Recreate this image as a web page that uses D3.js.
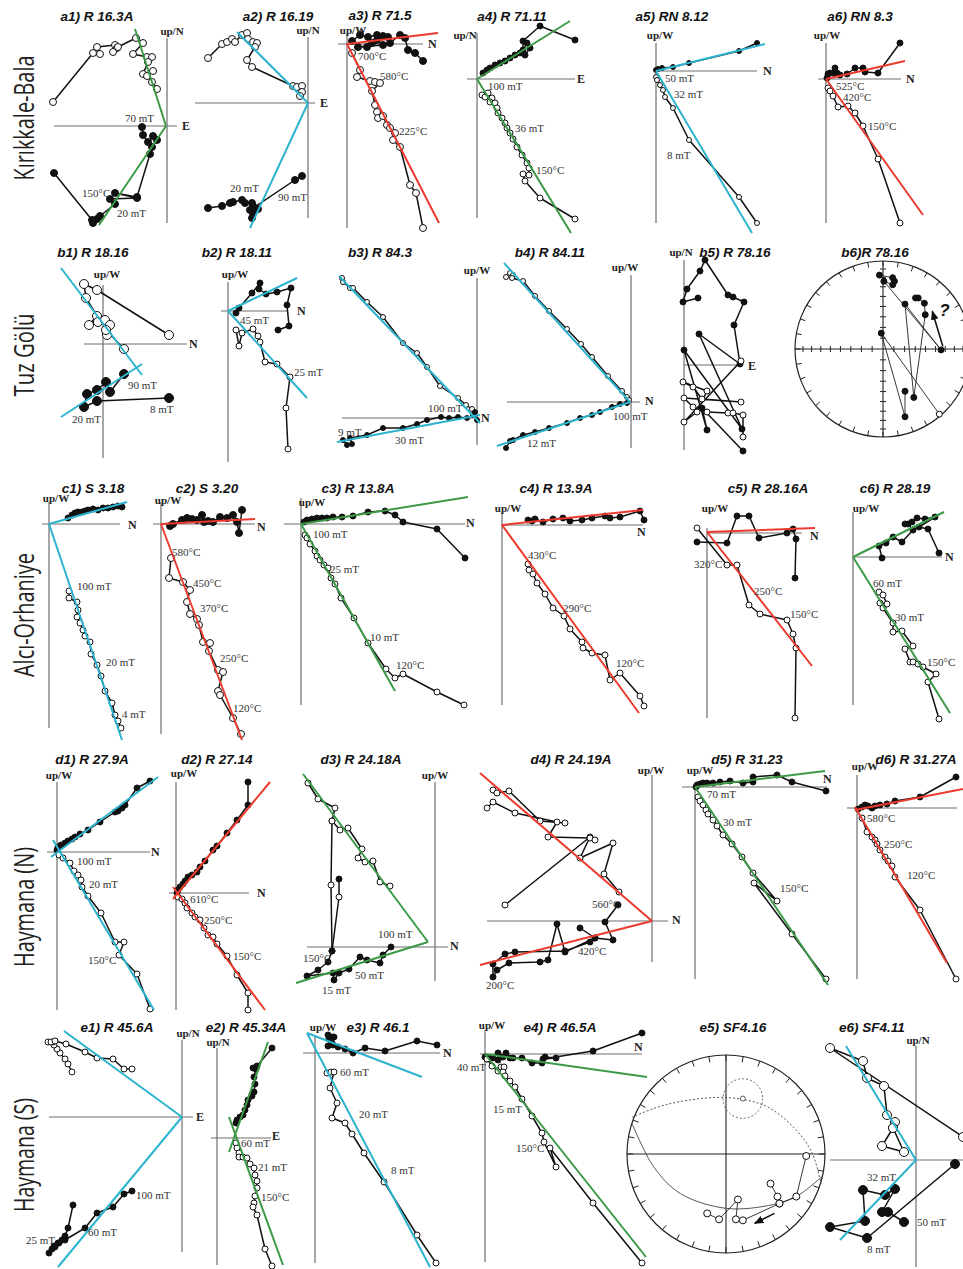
<!DOCTYPE html>
<html>
<head>
<meta charset="utf-8">
<script src="https://cdn.jsdelivr.net/npm/d3@7"></script>
<style>body{margin:0;background:#fff}</style>
</head>
<body>
<script>
// Zijderveld data: [east-or-north, up], arbitrary units.
// A third value overrides fill (1 = filled/horizontal, 0 = open/vertical).
const a1V = [[-114,24],[-74,73],[-67,72],[-70,79],[-52,81],[-50,78],[-54,74],[-49,79],[-31,88],[-24,83],[-34,72],[-20,69],[-15,69],[-19,64],[-24,52],[-14,55],[-20,50],[-15,44],[-10,37]];
const a1H = [[-25,-1],[-24,-9],[-19,-16],[-14,-10],[-10,-14],[-15,-21],[-17,-28],[-30,-71],[-52,-67],[-30,-72],[-57,-73],[-52,-78],[-67,-90],[-70,-93],[-74,-97],[-75,-94],[-113,-47]];
const a1Fit = [[[-32,97],[-1,0]],[[-1,0],[-68,-99]]];
const a1Txt = [["70 mT",-42,8],["150°C",-85,-67],["20 mT",-50,-87]];

const a2V = [[-100,45],[-86,59],[-81,61],[-76,64],[-73,61],[-66,68],[-61,70],[-60,64],[-55,61],[-51,60],[-53,56],[-61,43],[-56,36],[-15,17],[-11,16],[-6,17],[-6,11],[-8,7]];
const a2H = [[-100,-105],[-86,-103],[-78,-100],[-75,-99],[-66,-97],[-63,-100],[-56,-100],[-55,-103],[-50,-106],[-55,-110],[-56,-115],[-58,-107],[-13,-77],[-6,-73]];
const a2Fit = [[[-71,71],[0,0]],[[0,0],[-58,-125]]];
const a2Txt = [["20 mT",-78,-85],["90 mT",-30,-94]];

const a3H = [[5,3],[13,9],[21,7],[30,9],[33,7],[36,8],[41,7],[30,4],[25,1],[20,-3],[11,-3],[36,-1],[43,1],[53,9],[58,6],[61,-6],[68,-9],[76,-17]];
const a3V = [[5,-9],[13,-26],[10,-33],[23,-37],[28,-38],[33,-39],[25,-47],[28,-61],[30,-68],[31,-74],[36,-72],[40,-81],[43,-84],[48,-89],[46,-96],[53,-103],[63,-141],[69,-149],[76,-184]];
const a3Fit = [[[0,0],[91,11]],[[0,0],[92,-179]]];
const a3Txt = [["700°C",11,-12],["580°C",33,-32],["225°C",52,-87]];

const a4H = [[6,6],[10,9],[13,11],[18,14],[23,16],[28,18],[33,21],[38,24],[43,26],[48,24],[53,31],[50,36],[46,29],[46,38],[63,53],[98,39]];
const a4V = [[5,-16],[8,-18],[11,-14],[15,-19],[13,-23],[18,-24],[20,-29],[21,-34],[25,-39],[28,-44],[30,-49],[33,-54],[36,-60],[40,-68],[45,-76],[50,-84],[52,-89],[52,-96],[46,-95],[48,-102],[63,-119],[98,-140]];
const a4Fit = [[[0,0],[93,58]],[[0,0],[94,-154]]];
const a4Txt = [["100 mT",11,-7],["36 mT",38,-49],["150°C",59,-91]];

const a5H = [[0,1],[2,2],[6,3],[17,4],[33,8],[83,20],[101,28]];
const a5V = [[0,-6],[1,-9],[4,-14],[7,-19],[9,-26],[17,-37],[33,-69],[83,-126],[101,-152]];
const a5Fit = [[[0,0],[109,27]],[[0,0],[96,-162]]];
const a5Txt = [["50 mT",9,-7],["32 mT",18,-23],["8 mT",11,-84]];

const a6H = [[1,1],[2,5],[4,6],[7,6],[9,11],[11,6],[14,4],[21,5],[29,11],[37,11],[39,7],[52,6],[74,36]];
const a6V = [[2,-9],[4,-12],[7,-17],[12,-28],[22,-27],[29,-34],[37,-47],[52,-80],[74,-144]];
const a6Fit = [[[0,0],[79,18]],[[0,0],[97,-136]]];
const a6Txt = [["525°C",10,-7],["420°C",17,-18],["150°C",42,-47]];

const b1V = [[66,9],[-6,54],[-19,60],[-17,46],[-6,28],[-14,19],[-5,22],[2,24],[7,19],[4,9],[3,14],[21,-5]];
const b1H = [[66,-54],[-6,-57],[-19,-63],[-16,-50],[-6,-46],[3,-38],[7,-48],[21,-30]];
const b1Fit = [[[-42,76],[39,-31]],[[-42,-73],[39,-20]]];
const b1Txt = [["90 mT",25,-41],["8 mT",47,-65],["20 mT",-31,-75]];

const b2H = [[8,-2],[11,3],[24,18],[32,28],[31,22],[38,17],[49,19],[63,23],[59,6],[61,-15],[50,-19]];
const b2V = [[8,-19],[11,-35],[14,-22],[25,-18],[30,-25],[32,-31],[37,-51],[49,-53],[62,-66],[58,-97],[60,-138]];
const b2Fit = [[[0,0],[69,33]],[[0,0],[79,-87]]];
const b2Txt = [["45 mT",12,-9],["25 mT",66,-61]];

const b3V = [[-135,140],[-134,136],[-127,130],[-124,130],[-110,116],[-94,101],[-74,75],[-60,65],[-50,51],[-37,32],[-19,20],[-11,13],[-5,9]];
const b3H = [[-134,-22],[-130,-27],[-125,-26],[-127,-20],[-110,-17],[-94,-10],[-74,-10],[-60,-6],[-50,-2],[-36,1],[-28,0],[-19,1],[-10,0],[-4,3],[-2,6],[0,-2]];
const b3Fit = [[[-138,142],[3,-5]],[[-140,-24],[3,3]]];
const b3Txt = [["100 mT",-49,10],["9 mT",-139,-14],["30 mT",-82,-22]];

const b4V = [[-125,125],[-121,129],[-118,127],[-119,124],[-108,121],[-96,106],[-82,91],[-64,73],[-50,58],[-39,45],[-23,26],[-9,11],[-4,5],[-2,2]];
const b4H = [[-125,-46],[-121,-39],[-118,-38],[-108,-33],[-96,-30],[-82,-26],[-64,-21],[-51,-16],[-39,-13],[-31,-10],[-19,-5],[-11,-2],[-4,-1]];
const b4Fit = [[[-127,139],[-1,0]],[[-134,-44],[-1,0]]];
const b4Txt = [["100 mT",-18,-14],["12 mT",-104,-41]];

const b5H = [[14,67],[-1,63],[3,76],[16,94],[21,105],[44,70],[49,68],[60,63],[50,40],[56,1],[15,31],[58,-64],[0,15],[23,-65],[18,-43],[59,-86]];
const b5V = [[57,4],[0,-57],[13,-47],[23,-26],[-1,-17],[9,-22],[18,-34],[57,-37],[0,-33],[9,-42],[23,-47],[44,-48],[49,-48],[59,-50],[59,-72]];

// stereonet points, projected coordinates on the unit circle
const b6Path1 = [[-0.04,0.84],[0.11,0.81],[0.13,0.77],[0.11,0.73],[0.01,0.77],[0.66,-0.01],[0.25,0.51],[0.35,-0.55],[0.48,0.39],[0.47,0.52],[0.40,0.58],[0.37,0.58]];
const b6Path2 = [[0.25,-0.48],[0.25,-0.77],[-0.02,0.18],[0.64,-0.74,0]];
const b6Arrow = [[0.68,0.03],[0.56,0.43]];

const c1H = [[19,6],[23,9],[26,11],[29,12],[33,12],[36,13],[39,14],[44,15],[49,14],[54,16],[59,16],[64,17],[69,18],[73,17]];
const c1V = [[20,-67],[20,-74],[28,-78],[29,-86],[28,-93],[31,-99],[34,-106],[36,-112],[41,-118],[42,-130],[48,-141],[52,-152],[56,-167],[63,-179],[66,-191],[69,-197],[72,-204]];
const c1Fit = [[[0,0],[78,22]],[[0,0],[73,-216]]];
const c1Txt = [["100 mT",28,-62],["20 mT",57,-138],["4 mT",73,-190]];

const c2H = [[9,-2],[12,0],[21,4],[26,6],[31,5],[36,4],[41,9],[43,2],[47,3],[52,2],[59,7],[66,6],[72,9],[76,2],[78,-9],[81,14]];
const c2V = [[10,-34],[8,-54],[22,-58],[29,-66],[26,-78],[29,-90],[36,-95],[38,-101],[42,-118],[49,-119],[48,-127],[57,-146],[62,-148],[57,-167],[59,-171],[72,-194],[80,-210]];
const c2Fit = [[[0,0],[94,5]],[[0,0],[81,-216]]];
const c2Txt = [["580°C",11,-28],["450°C",32,-59],["370°C",39,-84],["250°C",59,-134],["120°C",72,-184]];

const c3H = [[3,2],[6,4],[11,5],[16,6],[21,6],[26,6],[32,7],[41,7],[52,8],[67,12],[84,13],[94,9],[102,2],[136,-5],[164,-34]];
const c3V = [[4,-11],[6,-14],[9,-20],[14,-27],[16,-32],[19,-36],[23,-41],[27,-44],[30,-54],[34,-60],[40,-74],[53,-94],[67,-119],[85,-145],[94,-154],[102,-150],[136,-168],[163,-181]];
const c3Fit = [[[0,0],[167,27]],[[0,0],[94,-167]]];
const c3Txt = [["100 mT",12,-10],["25 mT",29,-45],["10 mT",69,-113],["120°C",95,-141]];

const c4H = [[26,5],[30,4],[33,6],[41,3],[51,6],[61,7],[68,4],[80,5],[90,7],[103,9],[108,7],[118,8],[138,14],[142,5]];
const c4V = [[26,-39],[27,-45],[31,-49],[35,-58],[43,-69],[51,-83],[62,-91],[68,-104],[80,-117],[81,-123],[90,-128],[103,-130],[108,-155],[118,-148],[138,-171],[142,-181]];
const c4Fit = [[[0,0],[141,15]],[[0,0],[137,-188]]];
const c4Txt = [["430°C",26,-30],["290°C",61,-83],["120°C",114,-138]];

const c5H = [[-10,-9],[20,-10],[30,17],[42,17],[52,-5],[80,0],[86,4],[89,-6],[88,-45]];
const c5V = [[-10,5],[20,-32],[30,-32],[42,-72],[53,-81],[80,-87],[86,-101],[89,-115],[88,-185]];
const c5Fit = [[[0,1],[108,5]],[[0,1],[105,-133]]];
const c5Txt = [["320°C",-13,-31],["250°C",47,-58],["150°C",83,-81]];

const c6H = [[29,-1],[26,11],[33,14],[40,20],[49,15],[60,27],[55,33],[52,33],[59,35],[64,39],[72,38],[82,40],[66,30],[75,28],[86,4]];
const c6V = [[26,-35],[30,-38],[34,-47],[27,-46],[30,-51],[40,-66],[40,-75],[49,-74],[60,-89],[52,-92],[57,-105],[60,-105],[65,-107],[70,-110],[83,-117],[75,-125],[86,-162]];
const c6Fit = [[[0,0],[91,45]],[[0,0],[97,-156]]];
const c6Txt = [["60 mT",20,-26],["30 mT",42,-60],["150°C",74,-105]];

const d1H = [[0,2],[1,5],[4,7],[8,9],[11,11],[15,13],[18,15],[23,18],[31,22],[43,30],[58,40],[61,41],[65,44],[68,47],[80,64],[93,71]];
const d1V = [[2,-3],[6,-6],[13,-11],[17,-19],[21,-23],[24,-28],[25,-35],[31,-44],[44,-61],[58,-90],[67,-90],[62,-103],[80,-122],[93,-157]];
const d1Fit = [[[-6,-5],[101,75]],[[-4,12],[97,-158]]];
const d1Txt = [["100 mT",20,-9],["20 mT",32,-32],["150°C",31,-108]];

const d2H = [[1,0],[2,3],[4,6],[7,9],[9,12],[12,16],[16,18],[21,21],[24,26],[29,32],[37,43],[41,47],[51,60],[61,73],[72,88],[72,111]];
const d2V = [[2,-4],[6,-6],[9,-10],[11,-15],[16,-20],[19,-24],[24,-27],[28,-35],[32,-42],[37,-44],[41,-51],[51,-63],[61,-82],[72,-100],[72,-117]];
const d2Fit = [[[-3,-6],[94,111]],[[-3,6],[89,-117]]];
const d2Txt = [["610°C",14,-6],["250°C",28,-27],["150°C",57,-63]];

const d3V = [[-45,61],[-55,65],[-62,86],[-70,85],[-77,89],[-73,98],[-87,119],[-95,117],[-103,126],[-100,139],[-117,148],[-127,164]];
const d3M = [[-103,126,0],[-104,62,0],[-103,-4,1],[-107,-15,1],[-117,-23,1],[-128,-29,1],[-102,-26,1],[-101,-33,1],[-96,-26,1],[-86,-22,1],[-75,-10,1],[-68,-13,1],[-55,-16,1],[-52,-8,1],[-44,0,1]];
const d3S = [[-96,68,1],[-96,50,0],[-103,-4,1]];
const d3Fit = [[[-132,173],[-7,5]],[[-139,-36],[-7,5]]];
const d3Txt = [["100 mT",-57,13],["150°C",-132,-11],["50 mT",-80,-28],["15 mT",-113,-43]];

const d4V1 = [[-147,16],[-62,84],[-72,63],[-39,78],[-48,47],[-33,29]];
const d4V2 = [[-165,113],[-159,119],[-137,108],[-95,99],[-104,84],[-62,83],[-57,81]];
const d4V3 = [[-159,131],[-155,128],[-143,130],[-112,100],[-87,98]];
const d4H1 = [[-34,16],[-47,-1],[-39,-19],[-57,-17],[-72,-7]];
const d4H2 = [[-57,-17],[-87,-31],[-95,-3],[-104,-39],[-112,-41],[-143,-42],[-155,-49],[-159,-56],[-159,-43],[-147,-33],[-137,-31],[-87,-30],[-62,-21]];
const d4Fit = [[[-172,148],[0,0]],[[-172,-44],[0,0]]];
const d4Txt = [["560°C",-60,17],["420°C",-74,-30],["200°C",-166,-64]];

const d5H = [[1,0],[2,2],[5,3],[8,4],[12,4],[18,4],[25,5],[35,6],[48,4],[58,5],[58,10],[82,12],[97,5],[131,-4]];
const d5V = [[3,-10],[5,-14],[8,-18],[11,-23],[13,-27],[18,-33],[22,-39],[28,-48],[37,-57],[47,-70],[58,-86],[82,-114],[59,-96],[97,-147],[131,-192]];
const d5Fit = [[[0,0],[130,16]],[[0,0],[133,-198]]];
const d5Txt = [["70 mT",12,-7],["30 mT",28,-35],["150°C",85,-101]];

const d6H = [[1,-1],[5,1],[8,3],[11,2],[15,0],[18,2],[23,3],[30,4],[38,7],[63,11],[99,31]];
const d6V = [[5,-10],[10,-24],[15,-29],[18,-32],[20,-36],[23,-42],[28,-49],[31,-53],[35,-58],[38,-69],[63,-102],[99,-171]];
const d6Fit = [[[-2,-2],[106,19]],[[-2,1],[90,-155]]];
const d6Txt = [["580°C",10,-10],["250°C",27,-36],["120°C",50,-67]];

const e1V = [[-110,45],[-114,53],[-117,58],[-122,64],[-125,68],[-128,72],[-129,75],[-134,75],[-131,75],[-127,76],[-116,73],[-97,65],[-85,59],[-69,58],[-58,48],[-50,48]];
const e1H = [[-109,-88],[-114,-111],[-117,-119],[-120,-123],[-124,-126],[-128,-129],[-130,-132],[-133,-136],[-127,-130],[-123,-126],[-117,-123],[-97,-111],[-85,-96],[-69,-90],[-58,-77],[-50,-74]];
const e1Fit = [[[-118,86],[0,0]],[[-124,-150],[0,0]]];
const e1Txt = [["100 mT",-46,-78],["60 mT",-94,-115],["25 mT",-156,-123]];

const e2H = [[19,15],[20,18],[23,21],[26,23],[28,28],[30,33],[31,38],[35,42],[37,46],[38,54],[37,61],[39,69],[36,70],[40,72],[55,90]];
const e2V = [[19,-5],[20,-10],[22,-15],[22,-19],[26,-19],[30,-20],[33,-26],[37,-30],[38,-37],[40,-43],[40,-50],[38,-58],[37,-65],[36,-69],[40,-77],[48,-111],[55,-128]];
const e2Fit = [[[12,-14],[51,96]],[[12,21],[66,-127]]];
const e2Txt = [["60 mT",24,-5],["21 mT",41,-29],["150°C",44,-59]];

const e3H = [[13,18],[17,16],[19,16],[14,14],[17,10],[13,7],[18,8],[23,6],[30,4],[38,0],[50,5],[70,2],[102,12],[122,8]];
const e3V = [[12,-20],[16,-19],[19,-19],[15,-35],[22,-50],[17,-65],[30,-70],[37,-81],[49,-100],[69,-129],[102,-182],[121,-210]];
const e3Fit = [[[-8,20],[107,-24]],[[-8,20],[115,-214]]];
const e3Txt = [["60 mT",25,-19],["20 mT",44,-61],["8 mT",76,-117]];

const e4H = [[0,-3],[2,-5],[5,-4],[8,-4],[13,1],[13,-6],[18,-3],[21,1],[25,-4],[28,-4],[37,-4],[47,-9],[57,-9],[60,-3],[71,-4],[58,-5],[108,3],[157,21]];
const e4V = [[2,-5],[7,-12],[13,-17],[16,-13],[19,-13],[18,-18],[20,-22],[25,-27],[30,-33],[37,-45],[47,-62],[57,-79],[59,-88],[71,-113],[65,-94],[108,-149],[157,-209]];
const e4Fit = [[[0,0],[162,-23]],[[0,0],[161,-203]]];
const e4Txt = [["15 mT",8,-55],["150°C",31,-94],["40 mT",-28,-13]];

const e5A = [[0.45,-0.30],[0.52,-0.43],[0.54,-0.50],[0.71,-0.43],[0.81,-0.02]];
const e5B = [[0.54,-0.50],[0.17,-0.67],[0.10,-0.66],[0.12,-0.46],[-0.07,-0.66],[-0.19,-0.60]];
const e5Great = [[-0.95,0.31],[-0.73,-0.13],[-0.46,-0.40],[0.01,-0.55],[0.48,-0.51],[0.71,-0.43],[0.98,-0.22]];
const e5Dash = [[-0.95,0.37],[-0.73,0.46],[-0.46,0.53],[0.01,0.57],[0.41,0.48],[0.71,0.24],[0.87,0.01],[0.96,-0.30]];
const e5Mean = [0.17,0.56];
const e5A95 = 0.2;
const e5Arrow = [[0.49,-0.60],[0.29,-0.70]];

const e6V = [[47,23],[-86,112],[-53,99],[-49,82],[-32,74],[-29,45],[-21,38],[-23,32],[-12,8],[-34,14],[-23,32]];
const e6H = [[39,-4],[-49,-78],[-86,-67],[-51,-61],[-53,-30],[-31,-35],[-21,-29],[-34,-52],[-28,-52],[-12,-62]];
const e6Fit = [[[-70,114],[0,0]],[[-76,-80],[0,0]]];
const e6Txt = [["32 mT",-49,-17],["50 mT",1,-62],["8 mT",-49,-89]];

const rowNames = ["Kırıkkale-Bala", "Tuz Gölü", "Alcı-Orhaniye", "Haymana (N)", "Haymana (S)"];

// ---- layout ----
const GREEN = "#3c9a47", CYAN = "#2cb4cf", RED = "#ec3b2e";
const rowLabelPos = [[118, 125], [355, 83], [615, 124], [907, 120], [1155, 114]];

const zij = [
  {title:"a1) R 16.3A", tx:97, ty:16, ox:167, oy:126, hx:[54,177], vy:[38,223], up:["up/N",172,31], end:["E",182,126], series:[[a1V,0],[a1H,1]], fit:a1Fit, col:GREEN, notes:a1Txt, r:3.5},
  {title:"a2) R 16.19", tx:278, ty:16, ox:308, oy:103, hx:[195,315], vy:[37,218], up:["up/N",308,30], end:["E",320,103], series:[[a2V,0],[a2H,1]], fit:a2Fit, col:CYAN, notes:a2Txt, r:3.5},
  {title:"a3) R 71.5", tx:380, ty:15, ox:347, oy:44, hx:[338,423], vy:[33,228], up:["up/W",353,30], end:["N",428,44], series:[[a3H,1],[a3V,0]], fit:a3Fit, col:RED, notes:a3Txt, r:3.5},
  {title:"a4) R 71.11", tx:512, ty:16, ox:477, oy:79, hx:[467,575], vy:[33,218], up:["up/N",465,35], end:["E",577,79], series:[[a4H,1],[a4V,0]], fit:a4Fit, col:GREEN, notes:a4Txt, r:3},
  {title:"a5) RN 8.12", tx:672, ty:16, ox:656, oy:71, hx:[656,757], vy:[43,223], up:["up/W",660,35], end:["N",763,71], series:[[a5H,1],[a5V,0]], fit:a5Fit, col:CYAN, notes:a5Txt, r:2.5},
  {title:"a6) RN 8.3", tx:860, ty:16, ox:826, oy:79, hx:[818,901], vy:[43,223], up:["up/W",827,35], end:["N",906,79], series:[[a6H,1],[a6V,0]], fit:a6Fit, col:RED, notes:a6Txt, r:3},

  {title:"b1) R 18.16", tx:93, ty:252, ox:103, oy:344, hx:[84,187], vy:[285,458], up:["up/W",107,274], end:["N",189,344], series:[[b1V,0],[b1H,1]], fit:b1Fit, col:CYAN, notes:b1Txt, r:4.5},
  {title:"b2) R 18.11", tx:237, ty:252, ox:228, oy:311, hx:[221,288], vy:[282,462], up:["up/W",235,274], end:["N",297,311], series:[[b2H,1],[b2V,0]], fit:b2Fit, col:CYAN, notes:b2Txt, r:3},
  {title:"b3) R 84.3", tx:380, ty:252, ox:477, oy:418, hx:[342,477], vy:[278,445], up:["up/W",477,270], end:["N",481,418], series:[[b3V,0],[b3H,1]], fit:b3Fit, col:CYAN, notes:b3Txt, r:2.5},
  {title:"b4) R 84.11", tx:550, ty:252, ox:631, oy:402, hx:[507,640], vy:[275,448], up:["up/W",625,267], end:["N",645,401], series:[[b4V,0],[b4H,1]], fit:b4Fit, col:CYAN, notes:b4Txt, r:2.5},
  {title:"b5) R 78.16", tx:735, ty:252, ox:684, oy:365, hx:[684,740], vy:[260,450], up:["up/N",681,252], end:["E",748,366], series:[[b5H,1],[b5V,0]], fit:[], col:CYAN, notes:[], r:3},

  {title:"c1) S 3.18", tx:93, ty:488, ox:49, oy:524, hx:[42,120], vy:[502,728], up:["up/W",56,498], end:["N",128,525], series:[[c1H,1],[c1V,0]], fit:c1Fit, col:CYAN, notes:c1Txt, r:3},
  {title:"c2) S 3.20", tx:207, ty:488, ox:161, oy:524, hx:[153,255], vy:[502,734], up:["up/W",168,500], end:["N",257,527], series:[[c2H,1],[c2V,0]], fit:c2Fit, col:RED, notes:c2Txt, r:3.5},
  {title:"c3) R 13.8A", tx:358, ty:488, ox:301, oy:524, hx:[284,465], vy:[498,705], up:["up/W",312,502], end:["N",466,523], series:[[c3H,1],[c3V,0]], fit:c3Fit, col:GREEN, notes:c3Txt, r:3},
  {title:"c4) R 13.9A", tx:556, ty:488, ox:502, oy:525, hx:[502,643], vy:[512,705], up:["up/W",508,508], end:["N",637,532], series:[[c4H,1],[c4V,0]], fit:c4Fit, col:RED, notes:c4Txt, r:3},
  {title:"c5) R 28.16A", tx:768, ty:488, ox:707, oy:533, hx:[707,802], vy:[528,718], up:["up/W",715,508], end:["N",810,536], series:[[c5H,1],[c5V,0]], fit:c5Fit, col:RED, notes:c5Txt, r:3},
  {title:"c6) R 28.19", tx:895, ty:488, ox:853, oy:557, hx:[853,942], vy:[512,705], up:["up/W",866,508], end:["N",945,557], series:[[c6H,1],[c6V,0]], fit:c6Fit, col:GREEN, notes:c6Txt, r:3},

  {title:"d1) R 27.9A", tx:92, ty:759, ox:57, oy:852, hx:[47,150], vy:[782,1010], up:["up/W",59,775], end:["N",151,852], series:[[d1H,1],[d1V,0]], fit:d1Fit, col:CYAN, notes:d1Txt, r:3},
  {title:"d2) R 27.14", tx:217, ty:759, ox:176, oy:893, hx:[169,249], vy:[782,1010], up:["up/W",184,773], end:["N",257,893], series:[[d2H,1],[d2V,0]], fit:d2Fit, col:RED, notes:d2Txt, r:3},
  {title:"d3) R 24.18A", tx:361, ty:759, ox:435, oy:947, hx:[307,448], vy:[782,981], up:["up/W",435,775], end:["N",450,946], series:[[d3V,0],[d3M,1],[d3S,1]], fit:d3Fit, col:GREEN, notes:d3Txt, r:3},
  {title:"d4) R 24.19A", tx:571, ty:759, ox:652, oy:921, hx:[487,668], vy:[775,962], up:["up/W",651,770], end:["N",672,920], series:[[d4V1,0],[d4V2,0],[d4V3,0],[d4H1,1],[d4H2,1]], fit:d4Fit, col:RED, notes:d4Txt, r:3},
  {title:"d5) R 31.23", tx:747, ty:759, ox:695, oy:787, hx:[682,827], vy:[785,979], up:["up/W",700,770], end:["N",823,779], series:[[d5H,1],[d5V,0]], fit:d5Fit, col:GREEN, notes:d5Txt, r:3},
  {title:"d6) R 31.27A", tx:916, ty:759, ox:857, oy:808, hx:[847,957], vy:[775,979], up:["up/W",865,766], end:["",0,0], series:[[d6H,1],[d6V,0]], fit:d6Fit, col:RED, notes:d6Txt, r:3},

  {title:"e1) R 45.6A", tx:117, ty:1027, ox:182, oy:1117, hx:[49,193], vy:[1040,1252], up:["up/N",188,1033], end:["E",196,1117], series:[[e1V,0],[e1H,1]], fit:e1Fit, col:CYAN, notes:e1Txt, r:3},
  {title:"e2) R 45.34A", tx:246, ty:1027, ox:217, oy:1138, hx:[211,271], vy:[1048,1265], up:["up/N",218,1042], end:["E",272,1136], series:[[e2H,1],[e2V,0]], fit:e2Fit, col:GREEN, notes:e2Txt, r:3},
  {title:"e3) R 46.1", tx:378, ty:1027, ox:315, oy:1053, hx:[303,440], vy:[1035,1263], up:["up/W",323,1027], end:["N",443,1053], series:[[e3H,1],[e3V,0]], fit:e3Fit, col:CYAN, notes:e3Txt, r:3},
  {title:"e4) R 46.5A", tx:560, ty:1027, ox:485, oy:1054, hx:[480,642], vy:[1030,1262], up:["up/W",492,1025], end:["N",634,1047], series:[[e4H,1],[e4V,0]], fit:e4Fit, col:GREEN, notes:e4Txt, r:3},
  {title:"e6) SF4.11", tx:872, ty:1027, ox:916, oy:1160, hx:[830,963], vy:[1046,1267], up:["up/N",918,1040], end:["",0,0], series:[[e6V,0],[e6H,1]], fit:e6Fit, col:CYAN, notes:e6Txt, r:4.5}
];

const nets = [
  {title:"b6)R 78.16", tx:875, ty:252, cx:883, cy:349, r:88, axisTicks:true, paths:[b6Path1, b6Path2], pr:3, arrow:b6Arrow, q:[0.64,0.44]},
  {title:"e5) SF4.16", tx:733, ty:1027, cx:726, cy:1154, r:99, axisTicks:false, paths:[e5A, e5B], pr:3.5, arrow:e5Arrow,
   great:e5Great, dash:e5Dash, mean:e5Mean, a95:e5A95}
];

const W = 963, H = 1269;
const svg = d3.select("body").append("svg")
  .attr("width", W).attr("height", H)
  .style("background", "#fff");

svg.append("defs").append("marker")
  .attr("id", "arr").attr("viewBox", "0 0 10 10")
  .attr("refX", 9).attr("refY", 5)
  .attr("markerWidth", 6).attr("markerHeight", 6)
  .attr("orient", "auto")
  .append("path").attr("d", "M0,1L10,5L0,9z").attr("fill", "#111");

const titleFont = "bold italic 13.5px 'Liberation Sans', Arial, sans-serif";
const noteFont = "11px 'Liberation Serif', 'Times New Roman', serif";
const axFont = "bold 11px 'Liberation Serif', 'Times New Roman', serif";

// row labels
rowNames.forEach((name, i) => {
  svg.append("text")
    .attr("transform", `translate(34,${rowLabelPos[i][0]}) rotate(-90)`)
    .attr("text-anchor", "middle")
    .attr("textLength", rowLabelPos[i][1])
    .attr("lengthAdjust", "spacingAndGlyphs")
    .style("font", "27px 'Open Sans', 'Noto Sans', sans-serif")
    .attr("fill", "#231f20")
    .text(name);
});

function title(g, t, x, y) {
  g.append("text").attr("x", x).attr("y", y).attr("dy", "0.35em")
    .attr("text-anchor", "middle").style("font", titleFont).attr("fill", "#111").text(t);
}

// Zijderveld panels
zij.forEach(p => {
  const g = svg.append("g");
  const x = d3.scaleLinear().domain([0, 100]).range([p.ox, p.ox + 100]);
  const y = d3.scaleLinear().domain([0, 100]).range([p.oy, p.oy - 100]);

  g.append("line").attr("x1", p.hx[0]).attr("x2", p.hx[1]).attr("y1", p.oy).attr("y2", p.oy)
    .attr("stroke", "#6e6e6e").attr("stroke-width", 1.2);
  g.append("line").attr("x1", p.ox).attr("x2", p.ox).attr("y1", p.vy[0]).attr("y2", p.vy[1])
    .attr("stroke", "#6e6e6e").attr("stroke-width", 1.2);

  const line = d3.line().x(d => x(d[0])).y(d => y(d[1]));
  p.series.forEach(([pts]) => {
    g.append("path").attr("d", line(pts))
      .attr("fill", "none").attr("stroke", "#111").attr("stroke-width", 1.5)
      .attr("stroke-linejoin", "round");
  });
  p.series.forEach(([pts, f]) => {
    g.append("g").selectAll("circle").data(pts).join("circle")
      .attr("cx", d => x(d[0])).attr("cy", d => y(d[1]))
      .attr("r", p.r)
      .attr("fill", d => ((d.length > 2 ? d[2] : f) ? "#111" : "#fff"))
      .attr("stroke", "#111").attr("stroke-width", 1);
  });

  p.fit.forEach(f => {
    g.append("line")
      .attr("x1", x(f[0][0])).attr("y1", y(f[0][1]))
      .attr("x2", x(f[1][0])).attr("y2", y(f[1][1]))
      .attr("stroke", p.col).attr("stroke-width", 2);
  });

  g.append("g").selectAll("text").data(p.notes).join("text")
    .attr("x", d => x(d[1])).attr("y", d => y(d[2])).attr("dy", "0.35em")
    .style("font", noteFont).attr("fill", "#333")
    .text(d => d[0]);

  title(g, p.title, p.tx, p.ty);
  g.append("text").attr("x", p.up[1]).attr("y", p.up[2]).attr("dy", "0.35em")
    .attr("text-anchor", "middle").style("font", axFont).attr("fill", "#222").text(p.up[0]);
  if (p.end[0]) {
    g.append("text").attr("x", p.end[1]).attr("y", p.end[2]).attr("dy", "0.35em")
      .style("font", "bold 12px 'Liberation Serif', serif").attr("fill", "#222").text(p.end[0]);
  }
});

// equal-area stereonets
nets.forEach(s => {
  const g = svg.append("g");
  const sx = d3.scaleLinear().domain([-1, 1]).range([s.cx - s.r, s.cx + s.r]);
  const sy = d3.scaleLinear().domain([-1, 1]).range([s.cy + s.r, s.cy - s.r]);

  g.append("circle").attr("cx", sx(0)).attr("cy", sy(0)).attr("r", s.r)
    .attr("fill", "none").attr("stroke", "#222").attr("stroke-width", 1.2);
  g.append("line").attr("x1", sx(-1)).attr("x2", sx(1)).attr("y1", sy(0)).attr("y2", sy(0))
    .attr("stroke", "#222").attr("stroke-width", 1.1);
  g.append("line").attr("x1", sx(0)).attr("x2", sx(0)).attr("y1", sy(-1)).attr("y2", sy(1))
    .attr("stroke", "#222").attr("stroke-width", 1.1);

  const rim = d3.range(0, 360, 10);
  g.append("g").selectAll("line").data(rim).join("line")
    .attr("x1", a => sx(Math.sin(a * Math.PI / 180)))
    .attr("y1", a => sy(Math.cos(a * Math.PI / 180)))
    .attr("x2", a => sx(0.94 * Math.sin(a * Math.PI / 180)))
    .attr("y2", a => sy(0.94 * Math.cos(a * Math.PI / 180)))
    .attr("stroke", "#222").attr("stroke-width", 1);

  if (s.axisTicks) {
    const rho = d3.range(10, 90, 10).map(c => Math.SQRT2 * Math.sin(c / 2 * Math.PI / 180));
    const t = rho.flatMap(v => [v, -v]);
    g.append("g").selectAll("line").data(t).join("line")
      .attr("x1", v => sx(v)).attr("x2", v => sx(v))
      .attr("y1", sy(0) - 3).attr("y2", sy(0) + 3)
      .attr("stroke", "#222");
    g.append("g").selectAll("line").data(t).join("line")
      .attr("y1", v => sy(v)).attr("y2", v => sy(v))
      .attr("x1", sx(0) - 3).attr("x2", sx(0) + 3)
      .attr("stroke", "#222");
  }

  const line = d3.line().x(d => sx(d[0])).y(d => sy(d[1]));
  if (s.great) {
    const curve = d3.line().x(d => sx(d[0])).y(d => sy(d[1])).curve(d3.curveCatmullRom);
    g.append("path").attr("d", curve(s.great))
      .attr("fill", "none").attr("stroke", "#444").attr("stroke-width", 0.9);
    g.append("path").attr("d", curve(s.dash))
      .attr("fill", "none").attr("stroke", "#444").attr("stroke-width", 0.9)
      .attr("stroke-dasharray", "2,2");
    g.append("circle").attr("cx", sx(s.mean[0])).attr("cy", sy(s.mean[1]))
      .attr("r", sx(s.a95) - sx(0))
      .attr("fill", "none").attr("stroke", "#555").attr("stroke-width", 0.9)
      .attr("stroke-dasharray", "2,2");
    g.append("circle").attr("cx", sx(s.mean[0])).attr("cy", sy(s.mean[1])).attr("r", 2.5)
      .attr("fill", "#fff").attr("stroke", "#333").attr("stroke-width", 0.8);
  }

  s.paths.forEach(pts => {
    g.append("path").attr("d", line(pts))
      .attr("fill", "none").attr("stroke", "#222").attr("stroke-width", 0.9);
  });
  const fillDefault = s.great ? 0 : 1;
  s.paths.forEach(pts => {
    g.append("g").selectAll("circle").data(pts).join("circle")
      .attr("cx", d => sx(d[0])).attr("cy", d => sy(d[1])).attr("r", s.pr)
      .attr("fill", d => ((d.length > 2 ? d[2] : fillDefault) ? "#111" : "#fff"))
      .attr("stroke", "#111").attr("stroke-width", 1);
  });

  g.append("line")
    .attr("x1", sx(s.arrow[0][0])).attr("y1", sy(s.arrow[0][1]))
    .attr("x2", sx(s.arrow[1][0])).attr("y2", sy(s.arrow[1][1]))
    .attr("stroke", "#111").attr("stroke-width", 1.6)
    .attr("marker-end", "url(#arr)");

  if (s.q) {
    g.append("text").attr("x", sx(s.q[0])).attr("y", sy(s.q[1])).attr("dy", "0.35em")
      .style("font", "bold italic 17px 'Liberation Sans', Arial, sans-serif")
      .attr("fill", "#111").text("?");
  }

  title(g, s.title, s.tx, s.ty);
});
</script>
</body>
</html>
